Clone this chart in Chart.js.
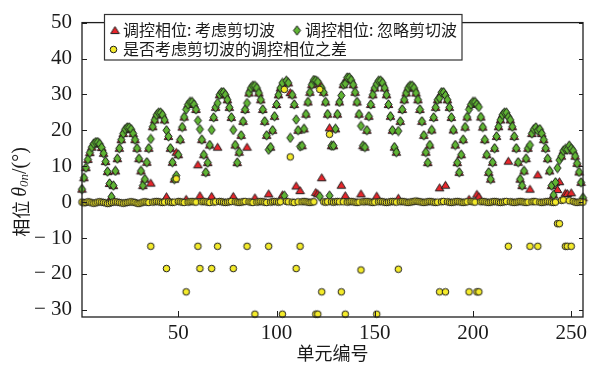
<!DOCTYPE html>
<html><head><meta charset="utf-8">
<script src="https://cdn.jsdelivr.net/npm/chart.js@4/dist/chart.umd.min.js"></script>
<style>html,body{margin:0;padding:0;background:#fff;}#wrap{width:600px;height:369px;}</style>
</head><body><div id="wrap"><canvas id="c" width="600" height="369"></canvas></div>
<script>
// element index 1..256
const units = Array.from({length: 256}, (_, i) => i + 1);

// 调控相位: 考虑剪切波 (red triangles)
const phaseShear = [
 3.6, 6.8, 9.6, 11.9, 13.8, 15.3, 16.3, 16.7, 16.7, 16.2, 15.2, 13.6, 11.3, 8.5, 5.2, 1.5,
 4.6, 8.7, 12.1, 15.0, 17.4, 19.1, 20.3, 20.8, 20.8, 20.3, 19.1, 17.4, 15.0, 12.1, 8.7, 4.6,
 6.4, 11.1, 15.0, 5.3, 21.0, 22.9, 24.3, 24.9, 24.9, 24.3, 22.9, 1.5, 18.3, 15.0, 11.1, 6.4,
 13.9, 13.2, 17.4, 20.9, 23.7, 0.8, 27.2, 27.9, 27.9, 27.2, 25.8, 10.4, 1.8, 17.4, 13.2, 8.3,
 11.0, 15.9, 1.6, 23.6, 26.4, 15.3, 29.9, 30.6, 30.6, 29.9, 28.5, 26.4, 23.6, 1.6, 15.9, 11.0,
 13.9, 18.6, 22.5, 25.8, 15.3, 30.4, 31.8, 32.4, 1.2, 31.8, 30.4, 28.5, 25.8, 22.5, 18.6, 2.3,
 15.3, 20.0, 23.9, 27.2, 29.9, 31.8, 2.0, 33.2, 33.8, 33.2, 30.5, 29.9, 27.2, 4.5, 20.0, 3.2,
 15.7, 20.4, 24.5, 27.9, 30.6, 32.7, 34.0, 2.7, 2.3, 33.0, 6.8, 30.6, 27.9, 24.5, 20.7, 15.7,
 15.7, 20.4, 24.5, 27.9, 4.7, 32.7, 1.8, 34.7, 34.7, 34.0, 32.7, 30.6, 27.9, 24.5, 2.3, 15.7,
 15.3, 20.0, 23.9, 27.2, 29.9, 31.8, 1.7, 33.8, 33.8, 33.2, 31.8, 29.9, 27.2, 23.9, 20.0, 15.3,
 13.9, 1.1, 22.5, 25.8, 28.5, 30.4, 31.8, 32.4, 32.4, 31.8, 30.4, 28.5, 25.8, 22.5, 18.6, 13.9,
 11.0, 15.9, 20.1, 23.6, 26.4, 28.5, 4.0, 30.6, 30.6, 4.7, 28.5, 26.4, 23.6, 20.1, 15.9, 11.0,
 8.3, 13.2, 17.4, 20.9, 23.7, 0.8, 27.2, 27.9, 27.9, 2.2, 1.5, 23.7, 20.9, 17.4, 13.2, 8.3,
 6.4, 11.1, 15.0, 18.3, 21.0, 22.9, 24.3, 24.9, 24.9, 11.4, 22.9, 21.0, 18.3, 15.0, 11.1, 6.4,
 4.6, 8.7, 12.1, 15.0, 3.6, 19.1, 20.3, 20.8, 7.6, 20.3, 19.1, 17.4, 15.0, 12.1, 8.7, 4.6,
 2.0, 5.5, 3.5, 5.7, 12.8, 14.3, 2.5, 2.4, 15.7, 2.6, 14.3, 12.8, 10.8, 8.4, 5.5, 1.2
];

// 调控相位: 忽略剪切波 (green diamonds)
const phaseNoShear = [
 3.6, 6.8, 9.6, 11.9, 13.8, 15.3, 16.3, 16.7, 16.7, 16.2, 15.2, 13.6, 11.3, 8.5, 5.2, 1.5,
 4.6, 8.7, 12.1, 15.0, 17.4, 19.1, 20.3, 20.8, 20.8, 20.3, 19.1, 17.4, 15.0, 12.1, 8.7, 4.6,
 6.4, 11.1, 15.0, 17.6, 21.0, 22.9, 24.3, 24.9, 24.9, 24.3, 22.9, 20.0, 18.3, 15.0, 11.1, 6.4,
 7.4, 13.2, 17.4, 20.9, 23.7, 25.8, 27.2, 27.9, 27.9, 27.2, 25.8, 22.7, 20.3, 17.4, 13.2, 8.3,
 11.0, 15.9, 20.1, 23.6, 26.4, 27.6, 29.9, 30.6, 30.6, 29.9, 28.5, 26.4, 23.6, 20.1, 15.9, 11.0,
 13.9, 18.6, 22.5, 25.8, 27.6, 30.4, 31.8, 32.4, 32.4, 31.8, 30.4, 28.5, 25.8, 22.5, 18.6, 14.6,
 15.3, 20.0, 23.9, 27.2, 29.9, 31.8, 33.2, 1.8, 33.8, 33.2, 17.9, 29.9, 27.2, 23.0, 20.0, 15.5,
 15.7, 20.4, 24.5, 27.9, 30.6, 32.7, 34.0, 33.9, 33.5, 1.6, 31.8, 30.6, 27.9, 24.5, 1.8, 15.7,
 15.7, 20.4, 24.5, 27.9, 29.7, 32.7, 33.0, 34.7, 34.7, 34.0, 32.7, 30.6, 27.9, 24.5, 21.2, 15.7,
 15.3, 20.0, 23.9, 27.2, 29.9, 31.8, 32.9, 33.8, 33.8, 33.2, 31.8, 29.9, 27.2, 23.9, 20.0, 15.3,
 13.9, 19.8, 22.5, 25.8, 28.5, 30.4, 31.8, 32.4, 32.4, 31.8, 30.4, 28.5, 25.8, 22.5, 18.6, 13.9,
 11.0, 15.9, 20.1, 23.6, 26.4, 28.5, 29.0, 30.6, 30.6, 29.7, 28.5, 26.4, 23.6, 20.1, 15.9, 11.0,
 8.3, 13.2, 17.4, 20.9, 23.7, 25.8, 27.2, 27.9, 27.9, 27.2, 26.5, 23.7, 20.9, 17.4, 13.2, 8.3,
 6.4, 11.1, 15.0, 18.3, 21.0, 22.9, 24.3, 24.9, 24.9, 23.7, 22.9, 21.0, 18.3, 15.0, 11.1, 6.4,
 4.6, 8.7, 12.1, 15.0, 15.9, 19.1, 20.3, 20.8, 19.9, 20.3, 19.1, 17.4, 15.0, 12.1, 8.7, 4.6,
 2.0, 5.5, 9.5, 11.7, 12.8, 14.3, 14.8, 14.7, 15.7, 14.9, 14.3, 12.8, 10.8, 8.4, 5.5, 1.2
];

// 是否考虑剪切波的调控相位之差 (yellow circles)
const phaseDiff = [
 0, -0.2, -0.1, 0.1, 0, -0.2, -0.3, -0.2, 0, 0.1, 0, -0.1, -0.2, -0.4, -0.3, -0.1,
 0, 0.1, 0, -0.1, -0.2, -0.3, -0.2, -0.1, 0, 0.1, 0, -0.1, -0.3, -0.4, -0.2, 0,
 0.1, 0, -0.1, -12.3, 0, 0.1, 0.2, 0.1, 0, -0.1, 0, -18.5, 0.1, 0, -0.1, 0,
 6.5, 0.2, 0.1, 0, -0.1, -25.0, 0, 0.1, 0.2, 0.1, 0, -12.3, -18.5, 0.1, 0.2, 0.1,
 0, -0.1, -18.5, 0, 0.1, -12.3, 0.2, 0.1, 0, -0.1, 0, 0.1, 0.2, -18.5, 0.1, 0,
 -0.1, 0, 0.1, 0.2, -12.3, 0.1, 0, -0.1, -31.2, 0, 0.1, 0.2, 0.1, 0, -0.1, -12.3,
 0, 0.1, 0.2, 0.1, 0, 0.1, -31.2, 31.4, 0.2, 0.1, 12.6, 0, -0.1, -18.5, 0.1, -12.3,
 0.1, 0.2, 0.1, 0, -0.1, 0, 0.1, -31.2, -31.2, 31.4, -25.0, 0.1, 0, 0.1, 18.9, 0.1,
 0, 0.1, 0.2, 0.1, -25.0, 0.1, -31.2, 0, 0.1, 0.2, 0.1, 0, -0.1, 0, -18.9, 0.1,
 0.1, 0.2, 0.1, 0, -0.1, 0, -31.2, 0.1, 0.2, 0.1, 0, -0.1, 0, 0.1, 0.2, 0.1,
 0, -18.7, 0.1, 0.2, 0.1, 0, -0.1, 0, 0.1, 0.2, 0.3, 0.2, 0.1, 0, -0.1, 0,
 0.1, 0.2, 0.1, 0, -0.1, 0, -25.0, 0.1, 0.2, -25.0, 0.1, 0, -0.1, 0, 0.1, 0.2,
 0.1, 0, -0.1, 0, 0.1, -25.0, 0.2, 0.1, 0, -25.0, -25.0, 0.1, 0.2, 0.1, 0, -0.1,
 0, 0.1, 0.2, 0.1, 0, -0.1, 0, 0.1, 0.2, -12.3, 0.1, 0, -0.1, 0, 0.1, 0.2,
 0.1, 0, -0.1, 0, -12.3, 0.1, 0.2, 0.1, -12.3, 0, -0.1, 0, 0.1, 0.2, 0.1, 0,
 -0.1, 0, -6.0, -6.0, 0.5, 0.6, -12.3, -12.3, 0.4, -12.3, 0.2, 0, -0.1, 0, 0.1, 0
];

const xTicks = [50, 100, 150, 200, 250];
const yTicks = [-30, -20, -10, 0, 10, 20, 30, 40, 50];
const seriesNames = ['调控相位: 考虑剪切波', '调控相位: 忽略剪切波', '是否考虑剪切波的调控相位之差'];
const xTitle = '单元编号';

const COL_RED = '#e8262b', COL_GREEN = '#5fb434', COL_YEL = '#f4eb2a', COL_EDGE = '#1e1e1e';
const CJK = '"Noto Sans CJK SC", "Noto Sans", sans-serif';
const SERIF = '"Liberation Serif", "DejaVu Serif", serif';

// marker glyphs drawn on small canvases (used as Chart.js pointStyle)
function makeMarker(kind) {
  const c = document.createElement('canvas');
  c.width = 11; c.height = 11;
  const g = c.getContext('2d');
  g.lineWidth = 1; g.strokeStyle = COL_EDGE; g.lineJoin = 'miter';
  g.beginPath();
  if (kind === 'diamond') {
    g.fillStyle = COL_GREEN;
    g.moveTo(5.5, 0.8); g.lineTo(9.0, 5.5); g.lineTo(5.5, 10.2); g.lineTo(2.0, 5.5); g.closePath();
  } else if (kind === 'triangle') {
    g.fillStyle = COL_RED;
    g.moveTo(5.5, 1.6); g.lineTo(9.8, 8.6); g.lineTo(1.2, 8.6); g.closePath();
  } else {
    g.fillStyle = COL_YEL;
    g.arc(5.5, 5.5, 3.3, 0, Math.PI * 2);
  }
  g.fill(); g.stroke();
  return c;
}
const mkRed = makeMarker('triangle'), mkGreen = makeMarker('diamond'), mkYel = makeMarker('circle');

const pts = arr => arr.map((v, i) => ({x: units[i], y: v}));

const decor = {
  id: 'decor',
  afterDatasetsDraw(chart) {
    const {ctx, chartArea: a, scales: {x, y}} = chart;
    ctx.save();
    ctx.strokeStyle = COL_EDGE; ctx.lineWidth = 1;
    ctx.beginPath();
    xTicks.forEach(v => { const px = Math.round(x.getPixelForValue(v)) + 0.5; ctx.moveTo(px, a.bottom); ctx.lineTo(px, a.bottom - 6); });
    yTicks.forEach(v => { const py = Math.round(y.getPixelForValue(v)) + 0.5;
      ctx.moveTo(a.left, py); ctx.lineTo(a.left + 5, py);
      ctx.moveTo(a.right, py); ctx.lineTo(a.right - 4, py); });
    ctx.stroke();
    ctx.lineWidth = 1.3;
    ctx.strokeRect(a.left, a.top, a.right - a.left, a.bottom - a.top);

    // legend
    const L = {x0: 104.5, y0: 14.5, x1: 462, y1: 60};
    ctx.fillStyle = '#fff';
    ctx.fillRect(L.x0, L.y0, L.x1 - L.x0, L.y1 - L.y0);
    ctx.lineWidth = 1.2; ctx.strokeStyle = '#333';
    ctx.strokeRect(L.x0, L.y0, L.x1 - L.x0, L.y1 - L.y0);
    ctx.drawImage(mkRed, 115 - 5.5, 30.5 - 5.5);
    ctx.drawImage(mkGreen, 297 - 5.5, 30.5 - 5.5);
    ctx.drawImage(mkYel, 113.5 - 5.5, 49.5 - 5.5);
    ctx.fillStyle = '#1a1a1a';
    ctx.font = '16px ' + CJK;
    ctx.textBaseline = 'middle'; ctx.textAlign = 'left';
    ctx.fillText(seriesNames[0], 123, 30);
    ctx.fillText(seriesNames[1], 305, 30);
    ctx.fillText(seriesNames[2], 123, 49);

    ctx.font = '18px ' + CJK;
    ctx.textAlign = 'center';
    ctx.fillText(xTitle, (a.left + a.right) / 2, 353);

    ctx.translate(21, 192);
    ctx.rotate(-Math.PI / 2);
    const parts = [
      {t: '相位 ', f: '18px ' + CJK, dy: 0},
      {t: 'θ', f: 'italic 20px ' + SERIF, dy: 0},
      {t: '0n', f: 'italic 13px ' + SERIF, dy: 4},
      {t: '/(°)', f: '20px ' + SERIF, dy: 0}
    ];
    let tw = 0;
    parts.forEach(p => { ctx.font = p.f; p.w = ctx.measureText(p.t).width; tw += p.w; });
    let cx = -tw / 2;
    ctx.textAlign = 'left';
    parts.forEach(p => { ctx.font = p.f; ctx.fillText(p.t, cx, p.dy); cx += p.w; });
    ctx.restore();
  }
};

const mkSet = (label, arr, marker, order) => ({
  label, data: pts(arr), order, clip: false,
  pointStyle: marker, pointRadius: 5, pointHoverRadius: 5,
  backgroundColor: 'transparent', borderColor: 'transparent'
});

new Chart(document.getElementById('c'), {
  type: 'scatter',
  data: {
    datasets: [
      mkSet(seriesNames[0], phaseShear, mkRed, 3),
      mkSet(seriesNames[1], phaseNoShear, mkGreen, 2),
      mkSet(seriesNames[2], phaseDiff, mkYel, 1)
    ]
  },
  options: {
    responsive: false, animation: false, devicePixelRatio: 1,
    layout: {padding: {left: 0, right: 17, top: 14, bottom: 0}},
    plugins: {legend: {display: false}, tooltip: {enabled: false}},
    scales: {
      x: {
        type: 'linear', min: 1, max: 256,
        grid: {display: false, drawTicks: false}, border: {display: false},
        afterBuildTicks: s => { s.ticks = xTicks.map(v => ({value: v})); },
        afterFit: s => { s.height = 52; },
        ticks: {font: {family: SERIF, size: 21}, color: '#1a1a1a', padding: 4, maxRotation: 0, autoSkip: false}
      },
      y: {
        type: 'linear', min: -32, max: 50,
        grid: {display: false, drawTicks: false}, border: {display: false},
        afterBuildTicks: s => { s.ticks = yTicks.map(v => ({value: v})); },
        afterFit: s => { s.width = 82; },
        ticks: {font: {family: SERIF, size: 21}, color: '#1a1a1a', padding: 10, autoSkip: false,
          callback: v => v < 0 ? '\u2212 ' + Math.abs(v) : String(v)}
      }
    }
  },
  plugins: [decor]
});
</script>
</body></html>
